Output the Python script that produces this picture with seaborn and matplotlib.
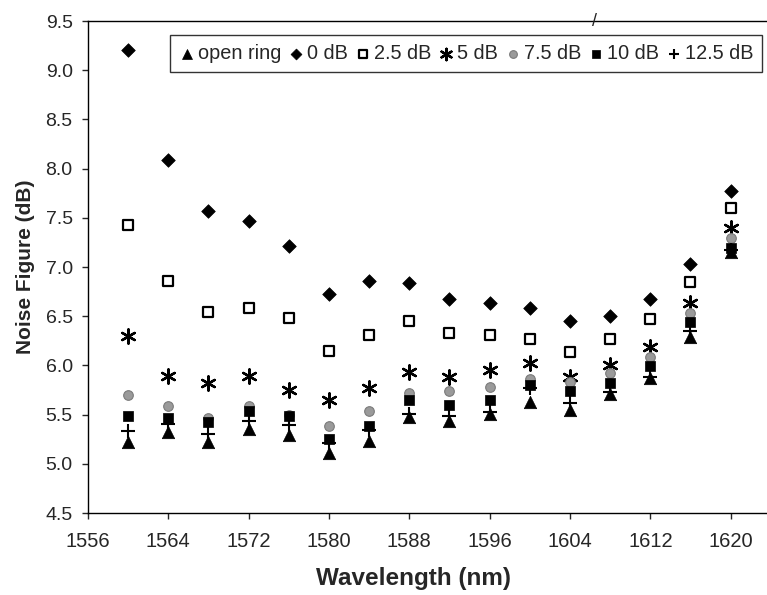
import numpy as np
import pandas as pd
import seaborn as sns
import matplotlib.pyplot as plt

wavelength = [1560, 1564, 1568, 1572, 1576, 1580, 1584, 1588,
              1592, 1596, 1600, 1604, 1608, 1612, 1616, 1620]

open_ring = [5.22, 5.32, 5.22, 5.35, 5.29, 5.11, 5.23, 5.48,
             5.44, 5.51, 5.63, 5.55, 5.71, 5.87, 6.29, 7.15]
db_0 = [9.21, 8.09, 7.57, 7.47, 7.21, 6.73, 6.86, 6.84,
        6.67, 6.63, 6.58, 6.45, 6.50, 6.67, 7.03, 7.77]
db_2_5 = [7.43, 6.86, 6.54, 6.58, 6.48, 6.15, 6.31, 6.45,
          6.33, 6.31, 6.27, 6.14, 6.27, 6.47, 6.85, 7.60]
db_5 = [6.30, 5.89, 5.82, 5.89, 5.75, 5.65, 5.77, 5.93,
        5.88, 5.95, 6.02, 5.88, 6.00, 6.19, 6.63, 7.40]
db_7_5 = [5.70, 5.59, 5.47, 5.59, 5.50, 5.38, 5.54, 5.72,
          5.74, 5.78, 5.86, 5.83, 5.92, 6.09, 6.53, 7.29]
db_10 = [5.49, 5.47, 5.42, 5.54, 5.49, 5.25, 5.38, 5.65,
         5.60, 5.65, 5.80, 5.74, 5.82, 5.99, 6.44, 7.19]
db_12_5 = [5.33, 5.40, 5.30, 5.43, 5.39, 5.21, 5.34, 5.51,
           5.49, 5.53, 5.77, 5.62, 5.73, 5.88, 6.35, 7.17]

series = [
    ("open ring", open_ring, dict(marker="^", s=80, color="black", edgecolor="black", linewidth=0.5)),
    ("0 dB", db_0, dict(marker="D", s=48, color="black", edgecolor="black", linewidth=0.5)),
    ("2.5 dB", db_2_5, dict(marker="s", s=52, color="white", edgecolor="black", linewidth=1.6)),
    ("5 dB", db_5, dict(marker=(6, 2, 0), s=105, color="black", linewidth=1.7)),
    ("7.5 dB", db_7_5, dict(marker="o", s=48, color="#9a9a9a", edgecolor="#7a7a7a", linewidth=0.8)),
    ("10 dB", db_10, dict(marker="s", s=58, color="black", edgecolor="black", linewidth=0.5)),
    ("12.5 dB", db_12_5, dict(marker="+", s=90, color="black", linewidth=1.5)),
]

sns.set_style("ticks")
plt.rcParams["font.family"] = ["Liberation Sans", "DejaVu Sans"]

fig = plt.figure(figsize=(7.67, 5.95), dpi=100)
# plot area runs past the right edge of the picture (it was cropped)
ax = fig.add_axes([88 / 767, (595 - 513) / 595, (811 - 88) / 767, (513 - 21) / 595])

for name, values, style in series:
    df = pd.DataFrame({"Wavelength": wavelength, "NF": values})
    sns.scatterplot(data=df, x="Wavelength", y="NF", ax=ax, label=name, **style)

ax.set_xlim(1556, 1628)
ax.set_ylim(4.5, 9.5)
ax.set_xticks(np.arange(1556, 1621, 8))
ax.set_yticks(np.arange(4.5, 9.51, 0.5))
ax.yaxis.set_major_formatter(plt.FormatStrFormatter("%.1f"))
ax.tick_params(axis="both", length=4, width=1, direction="out")
ax.tick_params(axis="x", labelsize=14.5, pad=10)
ax.tick_params(axis="y", labelsize=14, pad=7)
for sp in ax.spines.values():
    sp.set_visible(True)
    sp.set_linewidth(1.0)
    sp.set_color("black")

ax.set_xlabel("")
ax.set_ylabel("Noise Figure (dB)", fontsize=15, fontweight="bold")
ax.yaxis.set_label_coords(-0.073, 0.5)
fig.text(414 / 767, 1 - 578 / 595, "Wavelength (nm)", fontsize=17.5, fontweight="bold",
         ha="center", va="center")

# small break mark on the top border
fig.text(594 / 767, 1 - 21 / 595, "/", fontsize=13, ha="center", va="center")

leg = ax.legend(ncol=7, loc="upper right", bbox_to_anchor=(762 / 767, 1 - 35 / 595),
                bbox_transform=fig.transFigure, fontsize=14.3, frameon=True, fancybox=False,
                handletextpad=0.15, columnspacing=0.35, handlelength=0.8, borderpad=0.45,
                markerscale=0.8, borderaxespad=0)
leg.get_frame().set_edgecolor("black")
leg.get_frame().set_linewidth(1.0)

fig.savefig("out.png", dpi=100)
